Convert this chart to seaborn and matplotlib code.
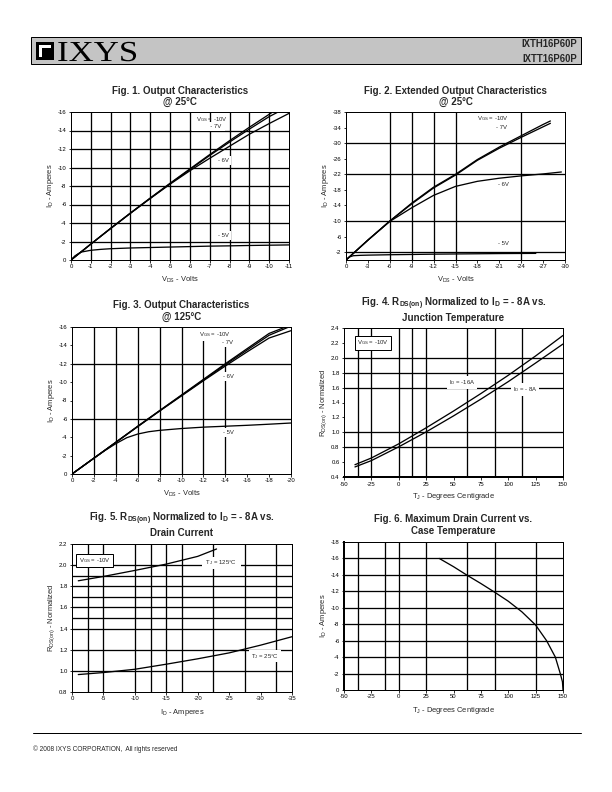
import numpy as np
import pandas as pd
import matplotlib
matplotlib.use('Agg')
import matplotlib.pyplot as plt
import seaborn as sns
from matplotlib.patches import Rectangle, PathPatch
from matplotlib.textpath import TextPath
from matplotlib.font_manager import FontProperties
from matplotlib.transforms import Affine2D
from matplotlib.ticker import FormatStrFormatter

# ========== DATA ==========
# Fig. 1 - output characteristics @ 25C
f1_vds = [0, -1, -2, -3, -4, -5, -6, -7, -8, -9, -10]
f1_id_10v = [0, -1.72, -3.42, -5.08, -6.7, -8.3, -9.85, -11.4, -12.9, -14.35, -15.75]
f1_id_7v = [0, -1.72, -3.42, -5.07, -6.68, -8.25, -9.78, -11.3, -12.75, -14.15, -15.5]
f1_id_6v = [0, -1.72, -3.4, -5.05, -6.65, -8.2, -9.65, -11.0, -12.3, -13.6, -14.75]
f1_vds_6v_end, f1_id_6v_end = -11, -15.85
f1_vds_5v = [0, -0.2, -0.5, -1, -1.5, -2, -3, -4, -5, -6, -7, -8, -9, -10, -11]
f1_id_5v = [0, -0.45, -0.85, -1.05, -1.15, -1.22, -1.3, -1.35, -1.4, -1.45, -1.5, -1.53, -1.57, -1.6, -1.63]

# Fig. 2 - extended output characteristics @ 25C
f2_vds = [0, -1, -3, -6, -9, -12, -15, -18, -21, -24, -27, -28]
f2_id_10v = [0, -1.7, -5.1, -10.0, -14.6, -18.7, -22.0, -25.8, -29.0, -31.9, -34.8, -35.7]
f2_id_7v = [0, -1.7, -5.1, -10.0, -14.4, -18.5, -21.8, -25.6, -28.7, -31.5, -34.2, -35.1]
f2_vds_6v = [0, -1, -3, -6, -9, -12, -15, -18, -21, -24, -27, -29.5]
f2_id_6v = [0, -1.7, -5.1, -9.9, -13.4, -16.6, -18.9, -20.2, -21.0, -21.6, -22.1, -22.6]
f2_vds_5v = [0, -0.5, -1, -2, -3, -6, -9, -12, -15, -18, -21, -24, -26]
f2_id_5v = [0, -0.8, -1.1, -1.2, -1.25, -1.35, -1.42, -1.5, -1.55, -1.6, -1.65, -1.68, -1.7]

# Fig. 3 - output characteristics @ 125C
f3_vds_10v = [0, -2, -4, -6, -8, -10, -12, -14, -16, -18, -19.5]
f3_id_10v = [0, -1.72, -3.45, -5.2, -6.9, -8.6, -10.3, -12.0, -13.65, -15.3, -16.0]
f3_vds_7v = [0, -2, -4, -6, -8, -10, -12, -14, -16, -18, -19.8]
f3_id_7v = [0, -1.72, -3.45, -5.18, -6.88, -8.55, -10.22, -11.9, -13.5, -15.1, -16.0]
f3_vds_6v = [0, -2, -4, -6, -8, -10, -12, -14, -16, -18, -20]
f3_id_6v = [0, -1.72, -3.44, -5.15, -6.85, -8.5, -10.15, -11.75, -13.3, -14.8, -15.6]
f3_vds_5v = [0, -2, -3, -4, -5, -6, -7, -8, -10, -12, -14, -16, -18, -20]
f3_id_5v = [0, -1.72, -2.55, -3.3, -3.95, -4.35, -4.6, -4.75, -4.95, -5.1, -5.2, -5.3, -5.42, -5.55]

# Fig. 4 - RDS(on) vs junction temperature
f4_tj = [-40, -25, 0, 25, 50, 75, 100, 125, 150]
f4_r_16a = [0.565, 0.655, 0.845, 1.06, 1.285, 1.52, 1.765, 2.025, 2.3]
f4_r_8a = [0.535, 0.62, 0.805, 1.005, 1.22, 1.445, 1.68, 1.93, 2.185]

# Fig. 5 - RDS(on) vs drain current
f5_id_125 = [-1, -5, -10, -15, -20, -23]
f5_r_125 = [1.852, 1.893, 1.95, 2.01, 2.083, 2.153]
f5_id_25 = [-1, -5, -10, -15, -20, -25, -30, -35]
f5_r_25 = [0.965, 0.984, 1.015, 1.063, 1.114, 1.17, 1.243, 1.323]

# Fig. 6 - max drain current vs case temperature
f6_tc = [37, 50, 62.5, 75, 87.5, 100, 112.5, 125, 135, 143, 147.5, 149.5, 150]
f6_id = [-16, -15.0, -13.95, -12.95, -11.9, -10.8, -9.5, -7.9, -6.0, -4.0, -2.0, -1.0, 0]

# ========== STYLE ==========
sns.set_theme(style='white')
plt.rcParams['font.family'] = ['Liberation Sans', 'DejaVu Sans']
plt.rcParams['mathtext.fontset'] = 'custom'
plt.rcParams['mathtext.rm'] = 'Liberation Sans'
plt.rcParams['mathtext.bf'] = 'Liberation Sans:bold'
plt.rcParams['mathtext.it'] = 'Liberation Sans:italic'
plt.rcParams['mathtext.default'] = 'rm'
plt.rcParams['axes.unicode_minus'] = False

W, H = 612, 792
fig = plt.figure(figsize=(W / 72, H / 72), dpi=72)
fig.patch.set_facecolor('white')

# full-page overlay in pixel coords (y down) for header, footer and titles
over = fig.add_axes([0, 0, 1, 1], zorder=-5)
over.set_xlim(0, W)
over.set_ylim(H, 0)
over.axis('off')


def px_axes(l, t, r, b):
    return fig.add_axes([l / W, 1 - b / H, (r - l) / W, (b - t) / H])


def style_axes(ax, xlim, ylim, xticks, yticks, vgrid, hgrid, xlabel, ylabel, yfmt=None):
    ax.set_facecolor('white')
    ax.set_xlim(*xlim)
    ax.set_ylim(*ylim)
    ax.set_xticks(xticks)
    ax.set_yticks(yticks)
    if yfmt:
        ax.yaxis.set_major_formatter(FormatStrFormatter(yfmt))
    ax.tick_params(direction='out', length=2.5, width=0.8, labelsize=6, pad=2,
                   colors='black', bottom=True, left=True)
    for s in ax.spines.values():
        s.set_color('black')
        s.set_linewidth(1.0)
    for v in vgrid:
        ax.axvline(v, color='black', lw=1.3, zorder=1)
    for h in hgrid:
        ax.axhline(h, color='black', lw=1.3, zorder=1)
    ax.set_xlabel(xlabel, fontsize=7.5, labelpad=5)
    ax.set_ylabel(ylabel, fontsize=7.5, labelpad=2)


def title(ax, line1, line2, y1, y2, size=9.7):
    l, b, w, h = ax.get_position().bounds
    xc = (l + w / 2) * W
    over.text(xc, y1 + 3.5, line1, fontsize=size, fontweight='bold', ha='center', va='baseline')
    over.text(xc, y2 + 3.5, line2, fontsize=9.7, fontweight='bold', ha='center', va='baseline')


def curve(ax, x, y):
    sns.lineplot(x=x, y=y, ax=ax, color='black', lw=1.3, sort=False,
                 estimator=None, zorder=4, legend=False)


def label(ax, x, y, s, box=True, frame=False):
    bb = None
    if frame:
        bb = dict(facecolor='white', edgecolor='black', lw=1.0, pad=2.5)
    elif box:
        bb = dict(facecolor='white', edgecolor='none', pad=2.0)
    ax.text(x, y, s, fontsize=6, va='center', ha='left', zorder=3, bbox=bb)


# ========== HEADER / FOOTER ==========
over.add_patch(Rectangle((31, 37), 550, 27, facecolor='#c4c4c4', edgecolor='black', lw=1.0))
over.add_patch(Rectangle((36, 42), 18, 18, facecolor='black', edgecolor='none'))
over.add_patch(Rectangle((39, 45), 12, 2.5, facecolor='white', edgecolor='none'))
over.add_patch(Rectangle((39, 45), 2.5, 12, facecolor='white', edgecolor='none'))
logo = TextPath((0, 0), 'IXYS', size=29, prop=FontProperties(family='Liberation Serif'))
logo = Affine2D().scale(1.2, -1).translate(57, 61).transform_path(logo)
over.add_patch(PathPatch(logo, facecolor='black', edgecolor='none'))
over.text(577, 44, 'IXTH16P60P', fontsize=9.5, fontweight='bold', va='center', ha='right')
over.text(577, 59, 'IXTT16P60P', fontsize=9.5, fontweight='bold', va='center', ha='right')
over.plot([33, 581], [733, 733], color='black', lw=1.0)
over.text(33, 749, '\u00a9 2008 IXYS CORPORATION,  All rights reserved', fontsize=6.5, va='center', ha='left')

# ========== FIG 1 ==========
ax1 = px_axes(71, 112, 289, 260)
style_axes(ax1, (0, -11), (0, -16), range(0, -12, -1), range(0, -17, -2),
           range(-1, -11, -1), range(-2, -15, -2),
           'V$_{DS}$ - Volts', 'I$_D$ - Amperes')
title(ax1, 'Fig. 1. Output Characteristics', '@ 25\u00b0C', 90, 101)
curve(ax1, f1_vds + [-10.25], f1_id_10v + [-16.1])
curve(ax1, f1_vds + [-10.45], f1_id_7v + [-16.0])
curve(ax1, f1_vds + [f1_vds_6v_end], f1_id_6v + [f1_id_6v_end])
curve(ax1, f1_vds_5v, f1_id_5v)
label(ax1, -6.3, -15.2, 'V$_{GS}$ = -10V', box=False)
label(ax1, -6.2, -14.45, '          - 7V ')
label(ax1, -7.4, -10.75, '- 6V')
label(ax1, -7.4, -2.6, '- 5V')

# ========== FIG 2 ==========
ax2 = px_axes(346, 112, 565, 260)
style_axes(ax2, (0, -30), (0, -38), range(0, -31, -3), range(-2, -39, -4),
           [-6, -9, -12, -15, -24], [-2, -10, -22, -30],
           'V$_{DS}$ - Volts', 'I$_D$ - Amperes')
title(ax2, 'Fig. 2. Extended Output Characteristics', '@ 25\u00b0C', 90, 101)
curve(ax2, f2_vds, f2_id_10v)
curve(ax2, f2_vds, f2_id_7v)
curve(ax2, f2_vds_6v, f2_id_6v)
curve(ax2, f2_vds_5v, f2_id_5v)
label(ax2, -17.9, -36.2, 'V$_{GS}$ = -10V', box=False)
label(ax2, -20.6, -34.0, '- 7V', box=False)
label(ax2, -20.8, -19.5, '- 6V')
label(ax2, -20.8, -4.3, '- 5V')

# ========== FIG 3 ==========
ax3 = px_axes(72, 327, 291, 474)
style_axes(ax3, (0, -20), (0, -16), range(0, -21, -2), range(0, -17, -2),
           [-2, -4, -6, -8, -10, -12, -14], [-6, -12],
           'V$_{DS}$ - Volts', 'I$_D$ - Amperes')
title(ax3, 'Fig. 3. Output Characteristics', '@ 125\u00b0C', 305, 316)
curve(ax3, f3_vds_10v, f3_id_10v)
curve(ax3, f3_vds_7v, f3_id_7v)
curve(ax3, f3_vds_6v, f3_id_6v)
curve(ax3, f3_vds_5v, f3_id_5v)
label(ax3, -11.6, -15.15, 'V$_{GS}$ = -10V')
label(ax3, -13.7, -14.3, '- 7V')
label(ax3, -13.8, -10.6, '- 6V')
label(ax3, -13.8, -4.55, '- 5V')

# ========== FIG 4 ==========
ax4 = px_axes(344, 328, 563, 477)
style_axes(ax4, (-50, 150), (0.4, 2.4), range(-50, 151, 25), np.arange(0.4, 2.41, 0.2),
           [-37.5, -25, 0, 12.5, 25, 62.5, 87.5, 112.5], [0.8, 1.0, 1.6, 1.8, 2.0],
           'T$_J$ - Degrees Centigrade', 'R$_{DS(on)}$ - Normalized', yfmt='%.1f')
title(ax4, 'Fig. 4. R$_{\\mathbf{DS(on)}}$ Normalized to I$_{\\mathbf{D}}$ = - 8A vs.',
      'Junction Temperature', 302.5, 317.5)
ax4.spines['bottom'].set_linewidth(2.0)
curve(ax4, f4_tj, f4_r_16a)
curve(ax4, f4_tj, f4_r_8a)
label(ax4, -38, 2.2, 'V$_{GS}$ = -10V', frame=True)
label(ax4, 46, 1.67, 'I$_D$ = -16A')
label(ax4, 104, 1.58, 'I$_D$ = - 8A')

# ========== FIG 5 ==========
ax5 = px_axes(72, 544, 292, 692)
style_axes(ax5, (0, -35), (0.8, 2.2), range(0, -36, -5), np.arange(0.8, 2.21, 0.2),
           [-2.5, -5, -10, -12.5, -15, -17.5, -22.5, -27.5, -32.5],
           [1.0, 1.2, 1.4, 1.5, 1.6, 1.7, 1.8, 1.9, 2.0],
           'I$_D$ - Amperes', 'R$_{DS(on)}$ - Normalized', yfmt='%.1f')
title(ax5, 'Fig. 5. R$_{\\mathbf{DS(on)}}$ Normalized to I$_{\\mathbf{D}}$ = - 8A vs.',
      'Drain Current', 517.5, 532.5)
curve(ax5, f5_id_125, f5_r_125)
curve(ax5, f5_id_25, f5_r_25)
label(ax5, -1.1, 2.044, 'V$_{GS}$ = -10V', frame=True)
label(ax5, -21.0, 2.02, ' T$_J$ = 125\u00b0C  ')
label(ax5, -28.5, 1.14, 'T$_J$ = 25\u00b0C')

# ========== FIG 6 ==========
ax6 = px_axes(344, 542, 563, 690)
style_axes(ax6, (-50, 150), (0, -18), range(-50, 151, 25), range(0, -19, -2),
           [-37.5, -12.5, 0, 25, 62.5, 87.5, 125], range(-2, -17, -2),
           'T$_J$ - Degrees Centigrade', 'I$_D$ - Amperes')
title(ax6, 'Fig. 6. Maximum Drain Current vs.', 'Case Temperature', 519, 531)
ax6.spines['left'].set_linewidth(2.0)
curve(ax6, f6_tc, f6_id)

fig.savefig('out.png', dpi=72, facecolor='white')
